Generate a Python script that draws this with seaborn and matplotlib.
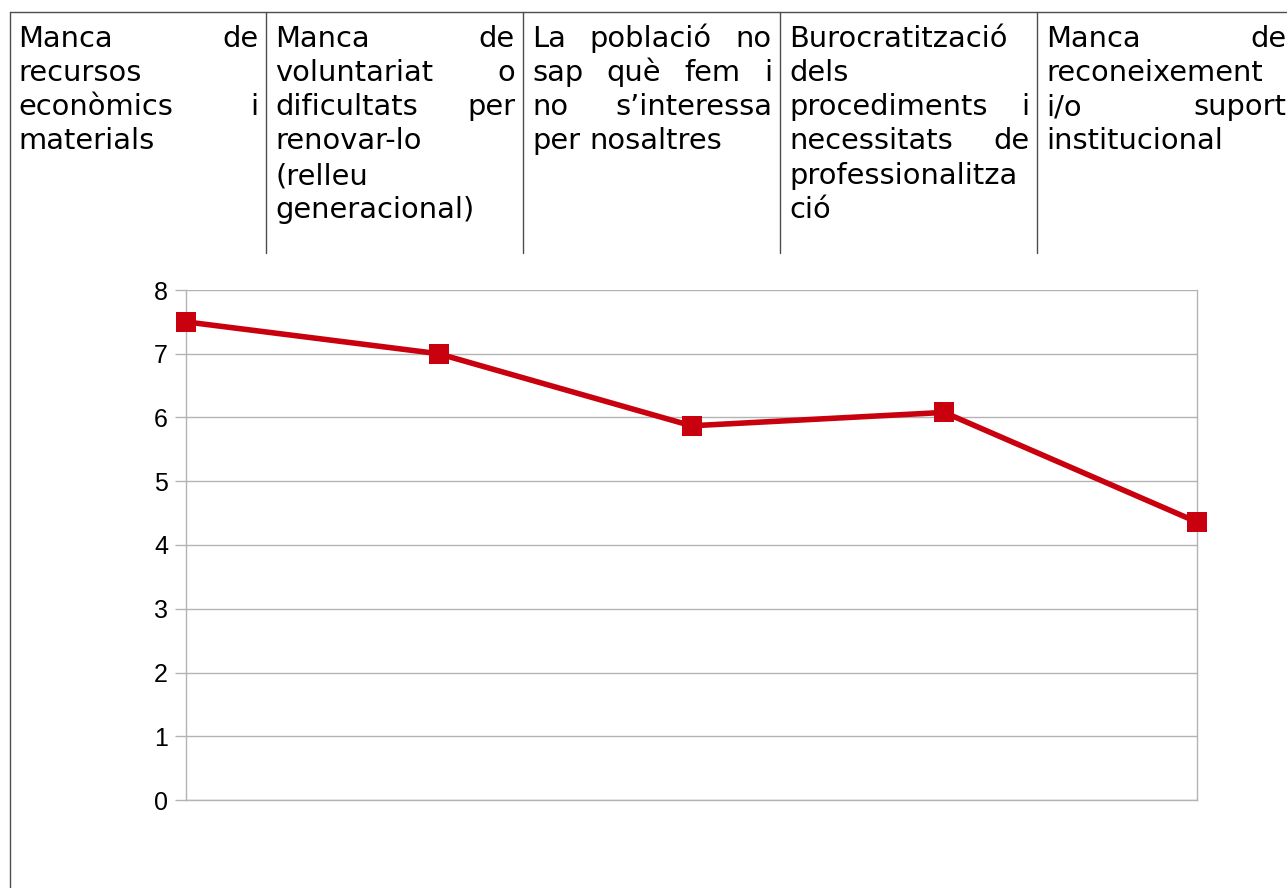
import matplotlib
matplotlib.use("Agg")
import matplotlib.pyplot as plt
import seaborn as sns
from matplotlib.lines import Line2D

# -----------------------------
# Data
# -----------------------------
categories = [
    "Manca de recursos econòmics i materials",
    "Manca de voluntariat o dificultats per renovar-lo (relleu generacional)",
    "La població no sap què fem i no s’interessa per nosaltres",
    "Burocratització dels procediments i necessitats de professionalització",
    "Manca de reconeixement i/o suport institucional",
]
values = [7.5, 7.0, 5.87, 6.08, 4.36]
y_ticks = [0, 1, 2, 3, 4, 5, 6, 7, 8]

# header cells, as wrapped in the original table
header_lines = [
    ["Manca de", "recursos", "econòmics i", "materials"],
    ["Manca de", "voluntariat o", "dificultats per", "renovar-lo", "(relleu", "generacional)"],
    ["La població no", "sap què fem i", "no s’interessa", "per nosaltres"],
    ["Burocratització", "dels", "procediments i", "necessitats de", "professionalitza", "ció"],
    ["Manca de", "reconeixement", "i/o suport", "institucional"],
]

W, H = 1287, 888
sns.set_style("white")

fig = plt.figure(figsize=(W / 100, H / 100), dpi=100)

def fx(x):
    return x / W

def fy(y):
    return 1 - y / H

# -----------------------------
# Table frame
# -----------------------------
frame_col = "#4d4d4d"
fig.add_artist(Line2D([fx(10), fx(1287)], [fy(12), fy(12)], color=frame_col, lw=1.0))
fig.add_artist(Line2D([fx(10), fx(10)], [fy(12), fy(888)], color=frame_col, lw=1.0))
for xd in [266, 523, 780, 1037]:
    fig.add_artist(Line2D([fx(xd), fx(xd)], [fy(12), fy(253)], color=frame_col, lw=1.0))

# -----------------------------
# Header text (justified)
# -----------------------------
renderer = fig.canvas.get_renderer()
col_left = [18, 275, 532, 789, 1046]
col_width = 240
line_y = [47, 81, 115, 149, 184, 218]
fsize = 20.8

for ci, lines in enumerate(header_lines):
    x0 = col_left[ci]
    x1 = x0 + col_width
    for li, line in enumerate(lines):
        words = line.split(" ")
        texts = [fig.text(fx(x0), fy(line_y[li]), w, fontsize=fsize,
                          family="DejaVu Sans", va="baseline", ha="left", color="black")
                 for w in words]
        justify = (li < len(lines) - 1) and len(words) > 1
        widths = [t.get_window_extent(renderer=renderer).width for t in texts]
        if justify:
            gap = (x1 - x0 - sum(widths)) / (len(words) - 1)
        else:
            sp = fig.text(0, 0, "a a", fontsize=fsize, family="DejaVu Sans")
            sa = fig.text(0, 0, "aa", fontsize=fsize, family="DejaVu Sans")
            gap = sp.get_window_extent(renderer=renderer).width - sa.get_window_extent(renderer=renderer).width
            sp.remove()
            sa.remove()
        xpos = x0
        for t, w in zip(texts, widths):
            t.set_x(fx(xpos))
            xpos += w + gap

# -----------------------------
# Line chart
# -----------------------------
ax = fig.add_axes([fx(186), 88 / H, 1011 / W, 510 / H])
sns.lineplot(x=list(range(len(values))), y=values, ax=ax, color="#c9000e",
             linewidth=4.0, marker="s", markersize=14, markeredgewidth=0,
             clip_on=False, zorder=5)

ax.set_xlim(0, len(values) - 1)
ax.set_ylim(0, 8)
ax.set_yticks(y_ticks)
ax.set_yticklabels([str(v) for v in y_ticks], family="Liberation Sans", fontsize=18)
ax.set_xticks([])
ax.grid(axis="y", color="#b3b3b3", linewidth=1.0)
ax.set_axisbelow(True)
ax.tick_params(axis="y", length=8, width=1.0, pad=5, color="#b3b3b3", labelcolor="black", left=True)

for side in ["left", "right", "bottom"]:
    ax.spines[side].set_color("#b3b3b3")
    ax.spines[side].set_linewidth(1.0)
ax.spines["top"].set_visible(False)
ax.set_xlabel("")
ax.set_ylabel("")

plt.savefig("out.png", dpi=100)
plt.close()
